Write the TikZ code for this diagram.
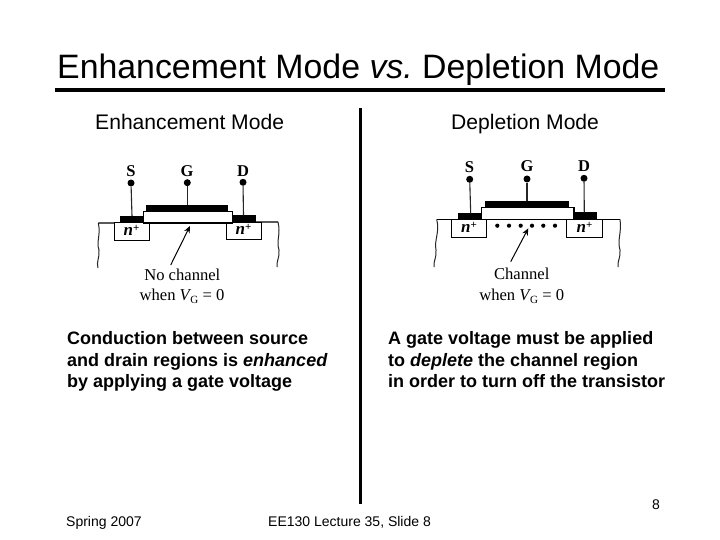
\documentclass[tikz,border=0pt]{standalone}
\usepackage{fontspec}
\setmainfont{Liberation Sans}
\newfontfamily\serifdia{Liberation Serif}
\frenchspacing
\usetikzlibrary{arrows.meta}
\newcommand{\nplus}{n\raisebox{4.5pt}{\fontsize{11}{11}\selectfont\upshape +}}
\newcommand{\vgsym}{\textit{V}\kern-1pt\raisebox{-2.5pt}{\fontsize{11}{11}\selectfont G}}
\tikzset{
  x=1pt,y=-1pt,
  ttl/.style={inner sep=0pt,font=\fontsize{33.85}{34}\selectfont,anchor=base west},
  head/.style={inner sep=0pt,font=\fontsize{21.1}{21}\selectfont,anchor=base west},
  bodytxt/.style={inner sep=0pt,font=\bfseries\fontsize{18}{21.8}\selectfont,anchor=base west},
  foot/.style={inner sep=0pt,font=\fontsize{14}{14}\selectfont,anchor=base west},
  dia/.style={inner sep=0pt,font=\serifdia\fontsize{16.6}{16}\selectfont,anchor=base},
  termlab/.style={inner sep=0pt,font=\serifdia\bfseries\fontsize{16.5}{16}\selectfont,anchor=base},
  nlab/.style={inner sep=0pt,font=\serifdia\bfseries\itshape\fontsize{17}{17}\selectfont,anchor=base},
  contact/.style={fill=black,draw=none},
  nbox/.style={draw=black,fill=white,line width=1pt,inner sep=0pt},
  lead/.style={draw=black!85,line width=1.1pt},
  termdot/.style={circle,fill=black,inner sep=0pt,minimum size=7pt},
  wav/.style={draw=black!85,line width=1pt},
  pointer/.style={draw=black,line width=1pt,-{Stealth[length=7pt,width=6pt]}},
  cdot/.style={circle,fill=black,inner sep=0pt,minimum size=4.2pt}
}
\begin{document}
\begin{tikzpicture}
\useasboundingbox[fill=white] (0,0) rectangle (720,540);
\node[ttl] (title) at (57,79) {Enhancement Mode \textit{vs.} Depletion Mode};
\coordinate (rl) at (55,90); \coordinate (rr) at (665,90);
\draw[line width=4pt] (rl) -- (rr);
\coordinate (vt) at (360,108); \coordinate (vb) at (360,504);
\draw[line width=3pt] (vt) -- (vb);
\node[head] (hl) at (95,130) {Enhancement Mode};
\node[head] (hr) at (451,130) {Depletion Mode};
% left device
\draw[wav] (98.3,223) .. controls (101,235) and (96,242) .. (99,250) .. controls (100,257) and (96,262) .. (98,268);
\draw[wav] (278,222) .. controls (281,235) and (276,240) .. (279,250) .. controls (280,257) and (276,262) .. (277,267);
\draw[line width=1.3pt] (98.3,223) -- (278,222);
\node[nbox,minimum width=35pt,minimum height=17pt] (ln1) at (131.8,231.5) {};
\node[nbox,minimum width=35pt,minimum height=16pt] (ln2) at (243.5,231) {};
\node[nlab] (ln1t) at (131.5,236) {\nplus};
\node[nlab] (ln2t) at (243.5,235) {\nplus};
\fill[contact] (120,216) rectangle (143.5,223);
\fill[contact] (232,215.5) rectangle (255.7,222);
\filldraw[fill=white,draw=black,line width=1.1pt] (143.3,223) rectangle (232.3,211.5);
\fill[contact] (146,205) rectangle (227.7,212.3);
\node[termdot] (ls) at (131,183) {}; \node[termdot] (lg) at (187.3,182.7) {}; \node[termdot] (ld) at (243,182.3) {};
\coordinate (lsb) at (132,216); \coordinate (lgb) at (187.3,205); \coordinate (ldb) at (243.5,215.5);
\draw[lead] (ls) -- (lsb); \draw[lead] (lg) -- (lgb); \draw[lead] (ld) -- (ldb);
\node[termlab] (lst) at (131,176.5) {S}; \node[termlab] (lgt) at (187,176.5) {G}; \node[termlab] (ldt) at (243,176.5) {D};
\node[dia] (lc1) at (182.3,280) {No channel};
\node[dia] (lc2) at (182,300.5) {when \vgsym{} = 0};
\coordinate (lat) at (170.7,265); \coordinate (lah) at (190,226);
\draw[pointer] (lat) -- (lah);
% right device
\draw[wav] (436.7,219.5) .. controls (440,232) and (434,240) .. (436,250) .. controls (437,257) and (433,262) .. (434,267);
\draw[wav] (620,219.5) .. controls (622,232) and (617,240) .. (620,250) .. controls (621,257) and (617,262) .. (618,267);
\draw[line width=1.3pt] (436.7,219.3) -- (620,219.3);
\node[nbox,minimum width=35pt,minimum height=17.5pt] (rn1) at (469.2,228.7) {};
\node[nbox,minimum width=35.3pt,minimum height=17.3pt] (rn2) at (584.6,228.6) {};
\node[nlab] (rn1t) at (469,233) {\nplus};
\node[nlab] (rn2t) at (584.6,233) {\nplus};
\fill[contact] (458.3,213.3) rectangle (481.7,220);
\fill[contact] (574,212.3) rectangle (596.7,219.5);
\filldraw[fill=white,draw=black,line width=1.1pt] (481.7,219.3) rectangle (574,207.7);
\fill[contact] (485,201) rectangle (569,208.3);
\node[termdot] (rs) at (469.7,179.3) {}; \node[termdot] (rg) at (527,179) {}; \node[termdot] (rd) at (584,178.3) {};
\coordinate (rsb) at (470.7,213.3); \coordinate (rgb) at (527,201); \coordinate (rdb) at (584.3,212.3);
\draw[lead] (rs) -- (rsb); \draw[lead] (rg) -- (rgb); \draw[lead] (rd) -- (rdb);
\node[termlab] (rst) at (469.5,173) {S}; \node[termlab] (rgt) at (527,172) {G}; \node[termlab] (rdt) at (584,172) {D};
\foreach \i/\px in {1/497.3,2/509,3/520.7,4/532,5/543.3,6/555}{\node[cdot] (c\i) at (\px,225.7) {};}
\node[dia] (rc1) at (521.7,279) {Channel};
\node[dia] (rc2) at (521.7,300.5) {when \vgsym{} = 0};
\coordinate (rat) at (510.7,261.7); \coordinate (rah) at (528.3,228.3);
\draw[pointer] (rat) -- (rah);
% text
\node[bodytxt,align=left,anchor=north west] (bl) at (67,331) {Conduction between source\\and drain regions is {\itshape enhanced}\\by applying a gate voltage};
\node[bodytxt,align=left,anchor=north west] (br) at (388,331) {A gate voltage must be applied\\to {\itshape deplete} the channel region\\in order to turn off the transistor};
\node[foot] (f1) at (66,526.5) {Spring 2007};
\node[foot] (f2) at (268,526.5) {EE130 Lecture 35, Slide 8};
\node[foot] (f3) at (652,509) {8};
\end{tikzpicture}
\end{document}
